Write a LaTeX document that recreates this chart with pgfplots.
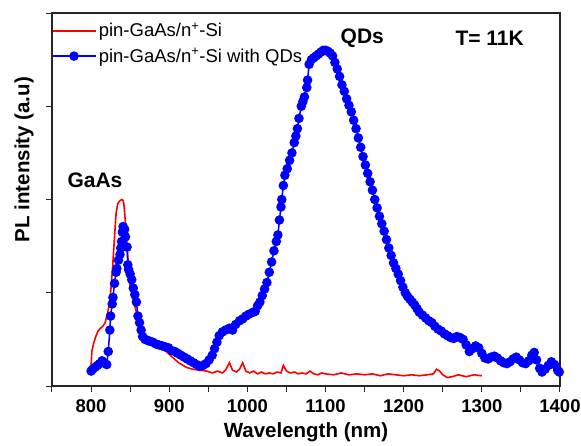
\documentclass[border=0pt]{standalone}
\usepackage{fontspec}
\setmainfont{Liberation Sans}
\usepackage{pgfplots}
\pgfplotsset{compat=1.18}

\pgfplotstableread{
x y
800 0.21
801 0.37
803 0.45
806 0.53
809 0.59
812 0.62
815 0.64
818 0.68
821 0.78
824 0.90
826 1.10
828 1.33
830 1.60
832 1.85
834 1.95
836 1.98
839 2.00
841 1.99
842 1.95
844 1.75
846 1.50
848 1.28
850 1.07
853 0.95
856 0.86
860 0.72
865 0.60
869 0.52
873 0.48
880 0.45
888 0.41
896 0.37
904 0.31
912 0.25
922 0.20
930 0.18
938 0.17
948 0.16
955 0.14
962 0.16
968 0.14
972 0.17
977 0.25
981 0.17
986 0.15
990 0.18
994 0.25
998 0.16
1003 0.14
1008 0.16
1013 0.13
1018 0.15
1023 0.13
1028 0.14
1033 0.13
1038 0.15
1043 0.14
1046 0.22
1050 0.16
1055 0.14
1060 0.15
1065 0.13
1070 0.14
1075 0.13
1080 0.16
1085 0.13
1090 0.12
1095 0.14
1100 0.13
1110 0.12
1120 0.14
1130 0.12
1140 0.13
1150 0.12
1160 0.13
1170 0.11
1180 0.13
1190 0.12
1200 0.11
1210 0.12
1220 0.11
1230 0.12
1238 0.13
1242 0.18
1246 0.16
1250 0.12
1256 0.09
1262 0.10
1270 0.12
1280 0.10
1290 0.12
1300 0.11
}\redtab

\pgfplotstableread{
x y
800 0.16
802 0.18
805 0.20
808 0.22
811 0.24
814 0.27
817 0.25
820 0.23
822 0.37
824 0.60
825 0.75
827 0.88
828 0.95
830 1.10
832 1.22
833 1.26
835 1.35
837 1.41
838 1.48
839 1.55
840 1.65
841 1.71
843 1.68
844 1.60
846 1.49
847 1.30
848 1.25
850 1.20
852 1.14
854 1.05
856 0.98
858 0.90
860 0.75
862 0.68
864 0.60
866 0.53
869 0.50
872 0.49
875 0.48
879 0.47
883 0.45
887 0.44
891 0.43
895 0.42
899 0.41
903 0.38
907 0.37
911 0.35
915 0.33
919 0.31
923 0.29
927 0.27
931 0.25
935 0.23
939 0.21
943 0.22
947 0.24
951 0.28
955 0.33
958 0.40
961 0.47
964 0.54
968 0.58
972 0.60
977 0.62
981 0.60
985 0.66
990 0.70
994 0.72
998 0.75
1002 0.77
1007 0.79
1010 0.80
1013 0.86
1016 0.90
1019 0.97
1022 1.04
1025 1.11
1028 1.22
1031 1.33
1034 1.45
1037 1.55
1039 1.62
1041 1.78
1043 1.92
1044 2.00
1046 2.15
1048 2.26
1051 2.33
1054 2.42
1057 2.50
1060 2.61
1062 2.68
1064 2.76
1066 2.87
1069 3.00
1071 3.05
1073 3.10
1076 3.20
1077 3.28
1079 3.45
1082 3.50
1085 3.52
1088 3.54
1091 3.56
1094 3.58
1097 3.60
1100 3.60
1103 3.59
1106 3.57
1109 3.54
1112 3.47
1115 3.40
1118 3.32
1121 3.23
1124 3.16
1127 3.08
1130 3.01
1133 2.94
1136 2.85
1139 2.76
1142 2.66
1145 2.56
1148 2.46
1151 2.37
1154 2.28
1157 2.19
1160 2.10
1163 2.00
1166 1.91
1169 1.82
1172 1.74
1175 1.66
1178 1.57
1181 1.48
1184 1.40
1187 1.32
1190 1.26
1193 1.20
1196 1.13
1199 1.06
1202 1.00
1205 0.96
1208 0.93
1211 0.90
1214 0.87
1217 0.83
1220 0.79
1224 0.76
1228 0.73
1232 0.70
1236 0.68
1240 0.64
1244 0.61
1248 0.59
1252 0.56
1256 0.54
1260 0.52
1264 0.51
1268 0.53
1272 0.52
1276 0.50
1280 0.44
1284 0.37
1288 0.40
1292 0.43
1296 0.41
1300 0.35
1304 0.30
1308 0.29
1312 0.31
1316 0.32
1320 0.30
1324 0.27
1328 0.25
1332 0.24
1336 0.26
1340 0.29
1344 0.31
1348 0.28
1352 0.25
1356 0.24
1360 0.27
1364 0.33
1367 0.36
1370 0.28
1374 0.19
1377 0.15
1381 0.18
1385 0.22
1389 0.26
1393 0.23
1397 0.17
1399 0.15
}\bluetab

\begin{document}
\begin{tikzpicture}
\begin{axis}[
    at={(0,0)}, anchor=south west,
    scale only axis, width=508pt, height=373pt,
    xmin=750, xmax=1400, ymin=0, ymax=4,
    xtick={750,800,...,1400},
    xticklabels={,800,,900,,1000,,1100,,1200,,1300,,1400},
    ytick={0,1,2,3,4}, yticklabels={},
    tick pos=left, tick align=outside,
    major tick length=6pt,
    axis line style={line width=1.2pt, black!85},
    every tick/.style={black!85, line width=1pt},
    /pgf/number format/assume math mode=true,
    ticklabel style={font=\bfseries\fontsize{18.5}{22}\selectfont},
    xticklabel style={yshift=-4pt},
    xlabel={Wavelength (nm)},
    ylabel={PL intensity (a.u)},
    label style={font=\bfseries\fontsize{20.5}{24}\selectfont},
    xlabel style={at={(axis description cs:0.5,0)}, anchor=center, yshift=-46pt},
    ylabel style={at={(axis description cs:-0.055,0.607)}, anchor=center},
    legend style={at={(0,1)}, anchor=north west, draw=none, fill=none,
        font=\fontsize{18.5}{21}\selectfont, inner xsep=0pt, inner ysep=8pt,
        row sep=6pt},
    legend cell align=left,
    legend image code/.code={\draw[mark repeat=2,mark phase=2,#1]
        plot coordinates {(0pt,0pt) (21pt,0pt) (43pt,0pt)};},
]
\addplot[red, line width=1.6pt] table {\redtab};
\addlegendentry{pin-GaAs/n\textsuperscript{+}-Si}
\addplot[blue, line width=1.5pt, mark=*, mark size=4pt, mark options={fill=blue, draw=blue}] table {\bluetab};
\addlegendentry{pin-GaAs/n\textsuperscript{+}-Si with QDs}

\node[font=\bfseries\fontsize{21}{24}\selectfont] at (axis cs:805,2.21) {GaAs};
\node[font=\bfseries\fontsize{21}{24}\selectfont] at (axis cs:1147,3.73) {QDs};
\node[font=\bfseries\fontsize{21}{24}\selectfont] at (axis cs:1310,3.73) {T= 11K};
\end{axis}
\pgfresetboundingbox
\useasboundingbox (-52pt,-59pt) rectangle (529pt,386pt);
\end{tikzpicture}
\end{document}
